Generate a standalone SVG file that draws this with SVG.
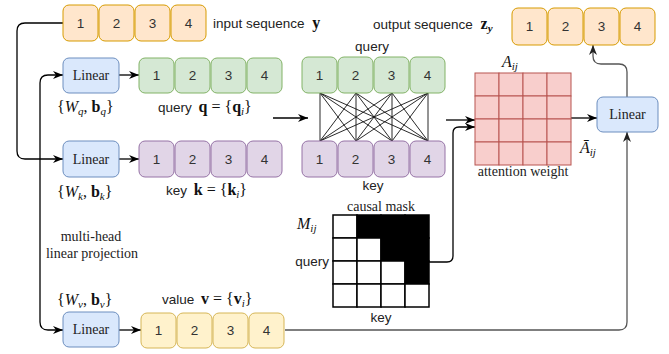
<svg xmlns="http://www.w3.org/2000/svg" width="669" height="354" viewBox="0 0 669 354">
<style>
.sans{font-family:"Liberation Sans",Arial,sans-serif;font-size:13.5px;fill:#222}
.serif{font-family:"Liberation Serif","Times New Roman",serif;font-size:14px;fill:#222}
.math{font-family:"Liberation Serif","Times New Roman",serif;font-size:16px;fill:#111}
.sub{font-size:11px}
.dig{font-family:"Liberation Sans",Arial,sans-serif;font-size:13.5px;fill:#333;text-anchor:middle}
.or{fill:#ffe6cc;stroke:#d79b00}
.bl{fill:#dae8fc;stroke:#6c8ebf}
.gr{fill:#d5e8d4;stroke:#82b366}
.pu{fill:#e1d5e7;stroke:#9673a6}
.ye{fill:#fff2cc;stroke:#d6b656}
.cell{fill:#f8cecc;stroke:#b85450;stroke-width:1}
.mk{stroke:#000;stroke-width:1.5}
.conn{fill:none;stroke:#000;stroke-width:1.3}
.gray{stroke:#555}
.x{stroke:#111;stroke-width:0.9}
.i{font-style:italic}
.b{font-weight:bold}
</style>
<defs>
<marker id="arr" viewBox="0 0 10 8" refX="10" refY="4" markerWidth="10" markerHeight="8" markerUnits="userSpaceOnUse" orient="auto">
<path d="M0,0 L10,4 L0,8 L3,4 Z" fill="#000"/>
</marker>
<marker id="arrg" viewBox="0 0 10 8" refX="10" refY="4" markerWidth="10" markerHeight="8" markerUnits="userSpaceOnUse" orient="auto">
<path d="M0,0 L10,4 L0,8 L3,4 Z" fill="#222"/>
</marker>
</defs>

<g id="connectors">
<path class="conn" d="M63,23 H25 Q17,23 17,31 V151 Q17,159 25,159 H63" marker-end="url(#arr)"/>
<path class="conn" d="M40,159 V83 Q40,75 48,75 H63" marker-end="url(#arr)"/>
<path class="conn" d="M40,159 V322 Q40,330 48,330 H63" marker-end="url(#arr)"/>
<path class="conn" d="M119,75 H139" marker-end="url(#arr)"/>
<path class="conn" d="M119,159 H139" marker-end="url(#arr)"/>
<path class="conn" d="M119,330 H141" marker-end="url(#arr)"/>
<path class="conn" d="M273,118 H308" marker-end="url(#arr)"/>
<path class="conn" d="M446,120 H475" marker-end="url(#arr)"/>
<path class="conn" d="M429,262 H447 Q453,262 453,256 V133 Q453,127 459,127 H475" marker-end="url(#arr)"/>
<path class="conn" d="M571,118 H597" marker-end="url(#arr)"/>
<path class="conn gray" d="M285,330 H619 Q627,330 627,322 V132" marker-end="url(#arrg)"/>
<path class="conn gray" d="M627,97 V72 Q627,64 619,64 H601 Q593,64 593,56 V45" marker-end="url(#arrg)"/>
</g>

<g id="input-seq">
<rect class="or" x="63" y="5" width="35" height="36" rx="6"/>
<rect class="or" x="99" y="5" width="35" height="36" rx="6"/>
<rect class="or" x="135" y="5" width="35" height="36" rx="6"/>
<rect class="or" x="171" y="5" width="35" height="36" rx="6"/>
<text class="dig" x="80.5" y="28">1</text><text class="dig" x="116.5" y="28">2</text><text class="dig" x="152.5" y="28">3</text><text class="dig" x="188.5" y="28">4</text>
<text class="sans" x="213" y="28">input sequence <tspan class="math b" dx="4">y</tspan></text>
</g>

<g id="linear-q">
<rect class="bl" x="63" y="58" width="56" height="35" rx="6"/>
<text class="serif" x="91" y="80" text-anchor="middle">Linear</text>
<text class="math" x="57" y="112">{<tspan class="i">W</tspan><tspan class="i sub" dy="3">q</tspan><tspan dy="-3">, </tspan><tspan class="b">b</tspan><tspan class="i sub" dy="3">q</tspan><tspan dy="-3">}</tspan></text>
</g>

<g id="query-seq">
<rect class="gr" x="139" y="58" width="35" height="35" rx="6"/>
<rect class="gr" x="175" y="58" width="35" height="35" rx="6"/>
<rect class="gr" x="211" y="58" width="35" height="35" rx="6"/>
<rect class="gr" x="247" y="58" width="35" height="35" rx="6"/>
<text class="dig" x="156.5" y="80">1</text><text class="dig" x="192.5" y="80">2</text><text class="dig" x="228.5" y="80">3</text><text class="dig" x="264.5" y="80">4</text>
<text class="sans" x="158" y="112">query <tspan class="math b" dx="3">q</tspan><tspan class="math"> = {</tspan><tspan class="math b">q</tspan><tspan class="math i sub" dy="3">i</tspan><tspan class="math" dy="-3">}</tspan></text>
</g>

<g id="linear-k">
<rect class="bl" x="63" y="141" width="56" height="36" rx="6"/>
<text class="serif" x="91" y="163.5" text-anchor="middle">Linear</text>
<text class="math" x="57" y="197">{<tspan class="i">W</tspan><tspan class="i sub" dy="3">k</tspan><tspan dy="-3">, </tspan><tspan class="b">b</tspan><tspan class="i sub" dy="3">k</tspan><tspan dy="-3">}</tspan></text>
</g>

<g id="key-seq">
<rect class="pu" x="139" y="141" width="35" height="36" rx="6"/>
<rect class="pu" x="175" y="141" width="35" height="36" rx="6"/>
<rect class="pu" x="211" y="141" width="35" height="36" rx="6"/>
<rect class="pu" x="247" y="141" width="35" height="36" rx="6"/>
<text class="dig" x="156.5" y="164">1</text><text class="dig" x="192.5" y="164">2</text><text class="dig" x="228.5" y="164">3</text><text class="dig" x="264.5" y="164">4</text>
<text class="sans" x="166" y="195">key <tspan class="math b" dx="3">k</tspan><tspan class="math"> = {</tspan><tspan class="math b">k</tspan><tspan class="math i sub" dy="3">i</tspan><tspan class="math" dy="-3">}</tspan></text>
</g>

<g id="projection-label">
<text class="serif" x="91" y="241" text-anchor="middle">multi-head</text>
<text class="serif" x="92" y="258" text-anchor="middle">linear projection</text>
</g>

<g id="linear-v">
<rect class="bl" x="63" y="312" width="56" height="35" rx="6"/>
<text class="serif" x="91" y="334" text-anchor="middle">Linear</text>
<text class="math" x="57" y="305">{<tspan class="i">W</tspan><tspan class="i sub" dy="3">v</tspan><tspan dy="-3">, </tspan><tspan class="b">b</tspan><tspan class="i sub" dy="3">v</tspan><tspan dy="-3">}</tspan></text>
</g>

<g id="value-seq">
<rect class="ye" x="141" y="313" width="35" height="35" rx="6"/>
<rect class="ye" x="177" y="313" width="35" height="35" rx="6"/>
<rect class="ye" x="213" y="313" width="35" height="35" rx="6"/>
<rect class="ye" x="249" y="313" width="35" height="35" rx="6"/>
<text class="dig" x="158.5" y="335">1</text><text class="dig" x="194.5" y="335">2</text><text class="dig" x="230.5" y="335">3</text><text class="dig" x="266.5" y="335">4</text>
<text class="sans" x="162" y="304">value <tspan class="math b" dx="3">v</tspan><tspan class="math"> = {</tspan><tspan class="math b">v</tspan><tspan class="math i sub" dy="3">i</tspan><tspan class="math" dy="-3">}</tspan></text>
</g>

<g id="qk-crossing">
<path class="x" d="M320,93 L320,141 M320,93 L356,141 M320,93 L392,141 M320,93 L428,141
M356,93 L320,141 M356,93 L356,141 M356,93 L392,141 M356,93 L428,141
M392,93 L320,141 M392,93 L356,141 M392,93 L392,141 M392,93 L428,141
M428,93 L320,141 M428,93 L356,141 M428,93 L392,141 M428,93 L428,141"/>
</g>

<g id="query-top">
<rect class="gr" x="302" y="57" width="35" height="36" rx="6"/>
<rect class="gr" x="338" y="57" width="35" height="36" rx="6"/>
<rect class="gr" x="374" y="57" width="35" height="36" rx="6"/>
<rect class="gr" x="410" y="57" width="35" height="36" rx="6"/>
<text class="dig" x="319.5" y="80">1</text><text class="dig" x="355.5" y="80">2</text><text class="dig" x="391.5" y="80">3</text><text class="dig" x="427.5" y="80">4</text>
<text class="sans" x="372" y="51" text-anchor="middle">query</text>
</g>

<g id="key-mid">
<rect class="pu" x="302" y="141" width="35" height="36" rx="6"/>
<rect class="pu" x="338" y="141" width="35" height="36" rx="6"/>
<rect class="pu" x="374" y="141" width="35" height="36" rx="6"/>
<rect class="pu" x="410" y="141" width="35" height="36" rx="6"/>
<text class="dig" x="319.5" y="164">1</text><text class="dig" x="355.5" y="164">2</text><text class="dig" x="391.5" y="164">3</text><text class="dig" x="427.5" y="164">4</text>
<text class="sans" x="373" y="190" text-anchor="middle">key</text>
</g>

<g id="attention">
<rect class="cell" x="475" y="73" width="24" height="23"/><rect class="cell" x="499" y="73" width="24" height="23"/><rect class="cell" x="523" y="73" width="24" height="23"/><rect class="cell" x="547" y="73" width="24" height="23"/>
<rect class="cell" x="475" y="96" width="24" height="23"/><rect class="cell" x="499" y="96" width="24" height="23"/><rect class="cell" x="523" y="96" width="24" height="23"/><rect class="cell" x="547" y="96" width="24" height="23"/>
<rect class="cell" x="475" y="119" width="24" height="23"/><rect class="cell" x="499" y="119" width="24" height="23"/><rect class="cell" x="523" y="119" width="24" height="23"/><rect class="cell" x="547" y="119" width="24" height="23"/>
<rect class="cell" x="475" y="142" width="24" height="23"/><rect class="cell" x="499" y="142" width="24" height="23"/><rect class="cell" x="523" y="142" width="24" height="23"/><rect class="cell" x="547" y="142" width="24" height="23"/>
<text class="math i" x="502" y="67">A<tspan class="sub" dy="3">ij</tspan></text>
<text class="math i" x="580" y="153">Ā<tspan class="sub" dy="3">ij</tspan></text>
<text class="serif" x="523" y="176" text-anchor="middle">attention weight</text>
</g>

<g id="causal-mask">
<rect class="mk" x="333" y="215" width="24" height="23" fill="#fff"/><rect class="mk" x="357" y="215" width="24" height="23" fill="#000"/><rect class="mk" x="381" y="215" width="24" height="23" fill="#000"/><rect class="mk" x="405" y="215" width="24" height="23" fill="#000"/>
<rect class="mk" x="333" y="238" width="24" height="23" fill="#fff"/><rect class="mk" x="357" y="238" width="24" height="23" fill="#fff"/><rect class="mk" x="381" y="238" width="24" height="23" fill="#000"/><rect class="mk" x="405" y="238" width="24" height="23" fill="#000"/>
<rect class="mk" x="333" y="261" width="24" height="23" fill="#fff"/><rect class="mk" x="357" y="261" width="24" height="23" fill="#fff"/><rect class="mk" x="381" y="261" width="24" height="23" fill="#fff"/><rect class="mk" x="405" y="261" width="24" height="23" fill="#000"/>
<rect class="mk" x="333" y="284" width="24" height="23" fill="#fff"/><rect class="mk" x="357" y="284" width="24" height="23" fill="#fff"/><rect class="mk" x="381" y="284" width="24" height="23" fill="#fff"/><rect class="mk" x="405" y="284" width="24" height="23" fill="#fff"/>
<text class="serif" x="381" y="211" text-anchor="middle">causal mask</text>
<text class="math i" x="297" y="229">M<tspan class="sub" dy="3">ij</tspan></text>
<text class="sans" x="329" y="266" text-anchor="end">query</text>
<text class="sans" x="381" y="322" text-anchor="middle">key</text>
</g>

<g id="linear-out">
<rect class="bl" x="597" y="97" width="61" height="35" rx="6"/>
<text class="serif" x="627.5" y="119" text-anchor="middle">Linear</text>
</g>

<g id="output-seq">
<rect class="or" x="512" y="8" width="35" height="37" rx="6"/>
<rect class="or" x="548" y="8" width="35" height="37" rx="6"/>
<rect class="or" x="584" y="8" width="35" height="37" rx="6"/>
<rect class="or" x="620" y="8" width="35" height="37" rx="6"/>
<text class="dig" x="529.5" y="31">1</text><text class="dig" x="565.5" y="31">2</text><text class="dig" x="601.5" y="31">3</text><text class="dig" x="637.5" y="31">4</text>
<text class="sans" x="373" y="29">output sequence <tspan class="math b" dx="4">z</tspan><tspan class="math b i sub" dy="3">y</tspan></text>
</g>
</svg>
